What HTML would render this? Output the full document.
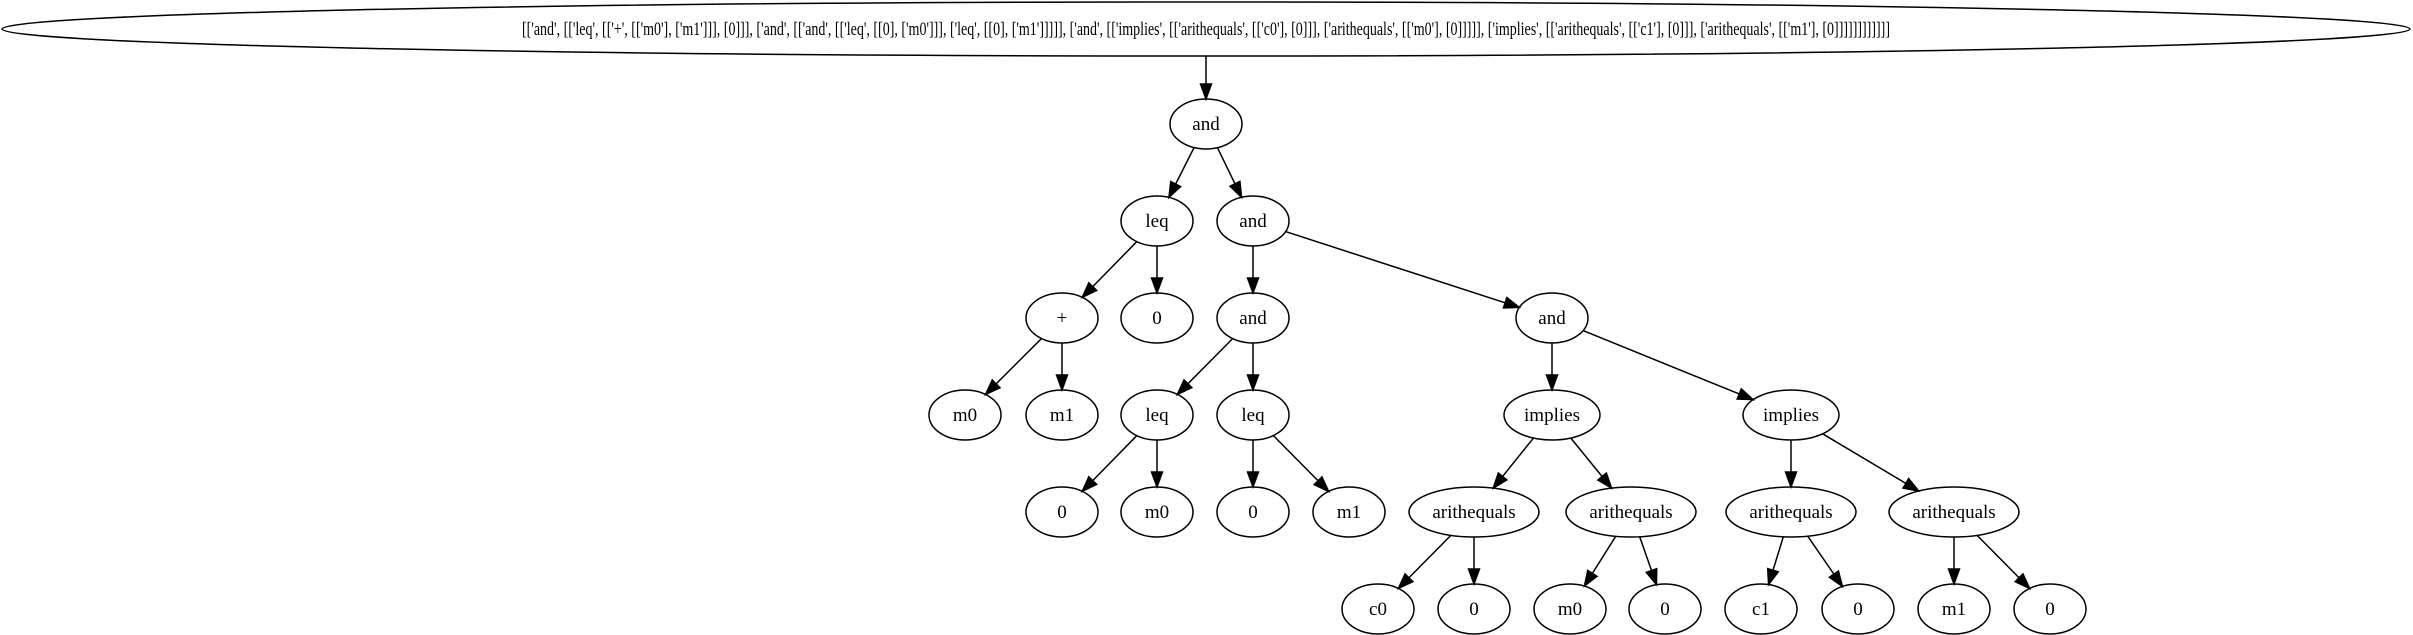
<!DOCTYPE html>
<html><head><meta charset="utf-8"><style>
html,body{margin:0;padding:0;background:#fff;}
svg{display:block;}
text{font-family:"Liberation Serif",serif;font-size:19px;fill:#000;}
</style></head><body>
<svg id="s" width="2413" height="635" viewBox="0 0 2413 635" xmlns="http://www.w3.org/2000/svg">
<ellipse cx="1206" cy="29" rx="1204" ry="27" fill="none" stroke="#000" stroke-width="1.5"/>
<text x="1206" y="35" text-anchor="middle" textLength="1368" lengthAdjust="spacingAndGlyphs">[['and', [['leq', [['+', [['m0'], ['m1']]], [0]]], ['and', [['and', [['leq', [[0], ['m0']]], ['leq', [[0], ['m1']]]]], ['and', [['implies', [['arithequals', [['c0'], [0]]], ['arithequals', [['m0'], [0]]]]], ['implies', [['arithequals', [['c1'], [0]]], ['arithequals', [['m1'], [0]]]]]]]]]]]]</text>
</svg>
<script>
var R=[29,124,221,318,415,512,609];
var N={
root:[1206,29,1204,27,null],
and1:[1206,R[1],36,25,'and'],
leq1:[1157,R[2],36,25,'leq'],
and2:[1253,R[2],36,25,'and'],
plus:[1062,R[3],36,25,'+'],
z1:[1157,R[3],36,25,'0'],
and3:[1253,R[3],36,25,'and'],
and4:[1552,R[3],36,25,'and'],
m0a:[965,R[4],36,25,'m0'],
m1a:[1062,R[4],36,25,'m1'],
leq2:[1157,R[4],36,25,'leq'],
leq3:[1253,R[4],36,25,'leq'],
imp1:[1552,R[4],48,25,'implies'],
imp2:[1791,R[4],48,25,'implies'],
z2:[1062,R[5],36,25,'0'],
m0b:[1157,R[5],36,25,'m0'],
z3:[1253,R[5],36,25,'0'],
m1b:[1349,R[5],36,25,'m1'],
ae1:[1474,R[5],65,25,'arithequals'],
ae2:[1631,R[5],65,25,'arithequals'],
ae3:[1791,R[5],65,25,'arithequals'],
ae4:[1954,R[5],65,25,'arithequals'],
c0:[1378,R[6],36,25,'c0'],
z4:[1474,R[6],36,25,'0'],
m0c:[1570,R[6],36,25,'m0'],
z5:[1665,R[6],36,25,'0'],
c1:[1761,R[6],36,25,'c1'],
z6:[1858,R[6],36,25,'0'],
m1c:[1954,R[6],36,25,'m1'],
z7:[2050,R[6],36,25,'0']
};
var E=[['root','and1'],['and1','leq1'],['and1','and2'],['leq1','plus'],['leq1','z1'],['plus','m0a'],['plus','m1a'],
['and2','and3'],['and2','and4'],['and3','leq2'],['and3','leq3'],['leq2','z2'],['leq2','m0b'],['leq3','z3'],['leq3','m1b'],
['and4','imp1'],['and4','imp2'],['imp1','ae1'],['imp1','ae2'],['imp2','ae3'],['imp2','ae4'],
['ae1','c0'],['ae1','z4'],['ae2','m0c'],['ae2','z5'],['ae3','c1'],['ae3','z6'],['ae4','m1c'],['ae4','z7']];
var s=document.getElementById('s'),NS='http://www.w3.org/2000/svg',h='';
function clip(n,dx,dy){var a=n[2],b=n[3];var t=1/Math.sqrt(dx*dx/(a*a)+dy*dy/(b*b));return [n[0]+dx*t,n[1]+dy*t];}
E.forEach(function(e){var p=N[e[0]],c=N[e[1]];var dx=c[0]-p[0],dy=c[1]-p[1];
var st,en;
if(e[0]=='root'){st=[p[0],p[1]+p[3]];}else st=clip(p,dx,dy);
en=clip(c,-dx,-dy);
var L=Math.hypot(en[0]-st[0],en[1]-st[1]),ux=(en[0]-st[0])/L,uy=(en[1]-st[1])/L;
var bx=en[0]-ux*15,by=en[1]-uy*15;
h+='<line x1="'+st[0]+'" y1="'+st[1]+'" x2="'+bx+'" y2="'+by+'" stroke="#000" stroke-width="1.5"/>';
h+='<polygon points="'+en[0]+','+en[1]+' '+(bx-uy*5.5)+','+(by+ux*5.5)+' '+(bx+uy*5.5)+','+(by-ux*5.5)+'" fill="#000" stroke="#000" stroke-width="1.5"/>';});
for(var k in N){var n=N[k];if(!n[4])continue;
h+='<ellipse cx="'+n[0]+'" cy="'+n[1]+'" rx="'+n[2]+'" ry="'+n[3]+'" fill="none" stroke="#000" stroke-width="1.5"/>';
h+='<text x="'+n[0]+'" y="'+(n[1]+6)+'" text-anchor="middle">'+n[4]+'</text>';}
s.insertAdjacentHTML('beforeend',h);
</script>
</body></html>
